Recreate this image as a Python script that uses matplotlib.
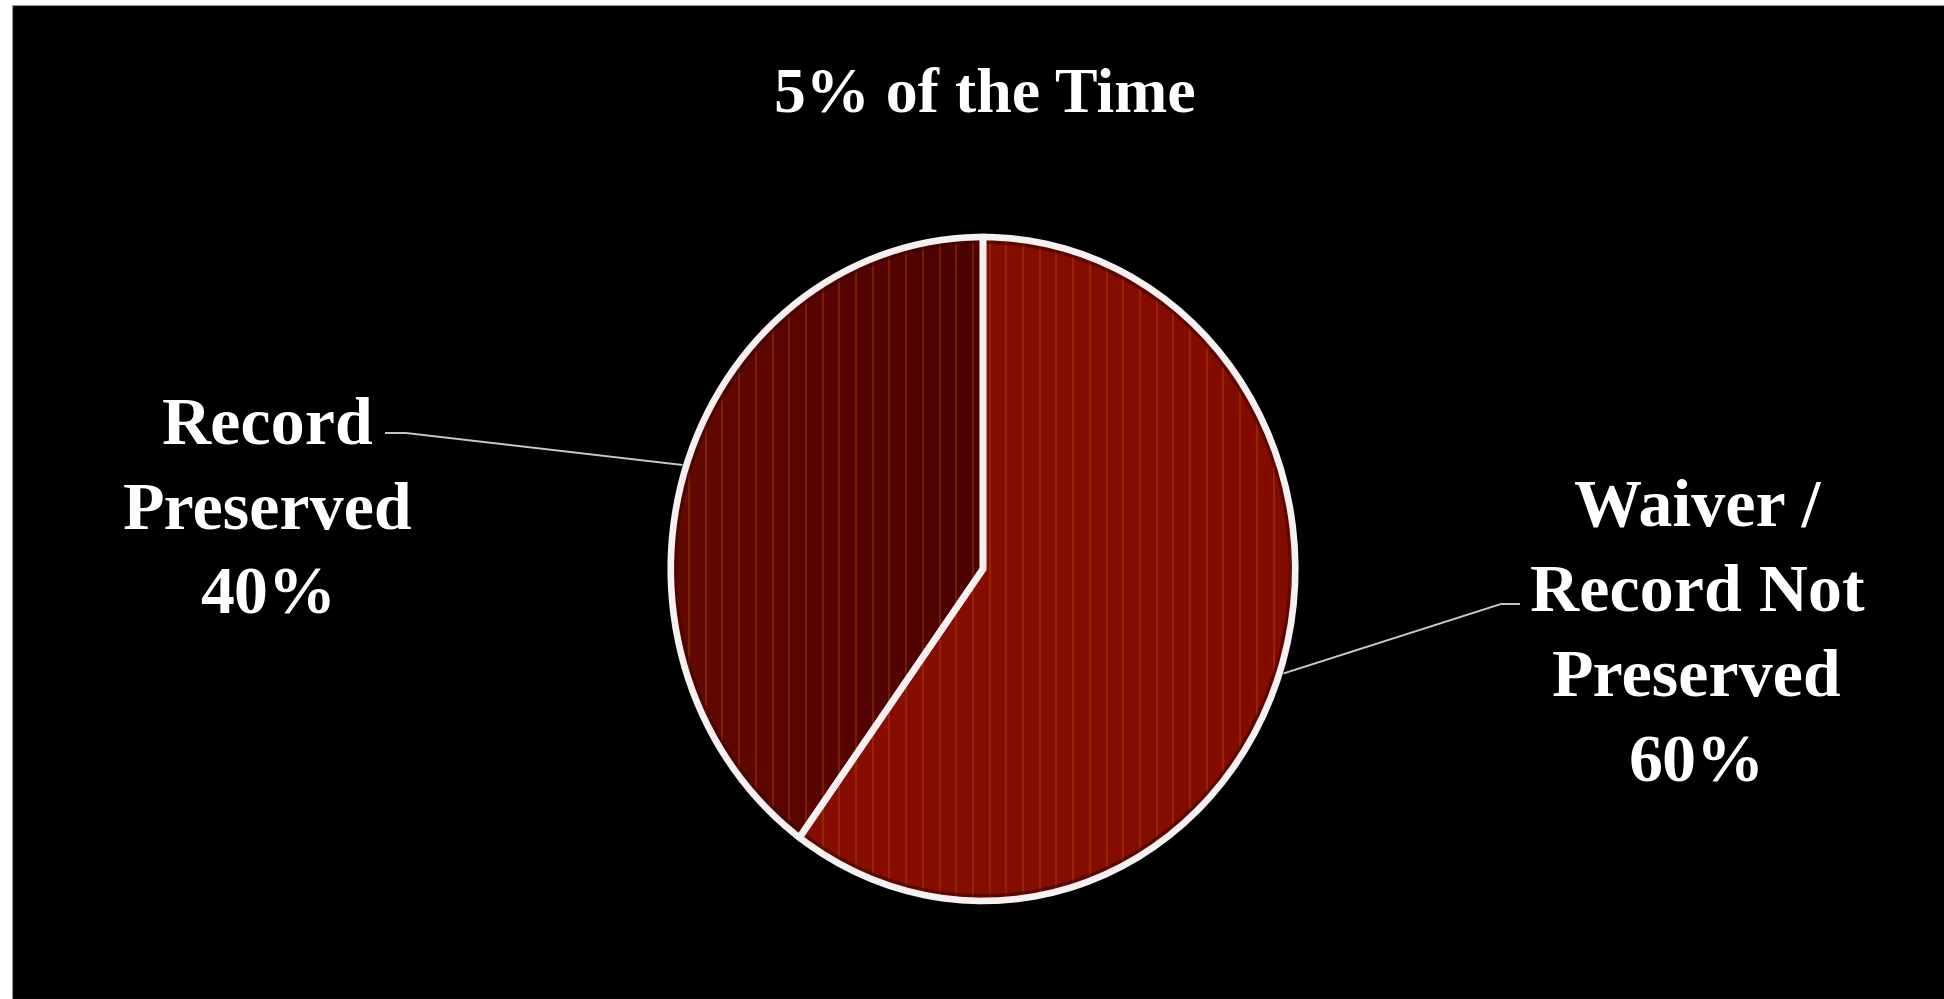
import numpy as np
import matplotlib
matplotlib.use('Agg')
from matplotlib import pyplot as plt
from matplotlib.patches import Rectangle, Wedge
from matplotlib.lines import Line2D
from matplotlib.colors import LinearSegmentedColormap

title = '5% of the Time'
labels = ['Waiver /\nRecord Not\nPreserved', 'Record\nPreserved']
shares = [60, 40]
colors = ['#840C00', '#5A0600']

W, H = 1944, 999
def fx(px):
    return px / W
def fy(py):
    return 1 - py / H

plt.rcParams['font.family'] = ['Liberation Serif', 'DejaVu Serif']

fig = plt.figure(figsize=(W / 100, H / 100), dpi=100, facecolor='white')
# black slide background with a small white margin top/left
fig.add_artist(Rectangle((fx(12), 0), 1, fy(5), transform=fig.transFigure,
                         facecolor='black', edgecolor='#9a9a9a', lw=0.8, zorder=-10))

# pie centre (983,569), radii 317 x 337 px -> slightly tall ellipse
cx, cy, rx, ry = 983, 569, 317, 337
ax = fig.add_axes([fx(cx - rx), fy(cy + ry), 2 * rx / W, 2 * ry / H])
ax.set_facecolor('none')
ax.set_zorder(1)

wedges, _ = ax.pie(shares, colors=colors, startangle=90, counterclock=False,
                   radius=0.985,
                   wedgeprops=dict(edgecolor='none', linewidth=0))
ax.set_aspect('auto')
ax.axis('off')

# gradient on the darker slice (darker toward the centre line)
grad = np.linspace(0, 1, 256).reshape(1, -1)
cm_left = LinearSegmentedColormap.from_list('l', ['#640900', '#580500', '#4A0300'])
im = ax.imshow(grad, extent=[-1, 0, -1, 1], cmap=cm_left, aspect='auto',
               zorder=1.5, interpolation='bilinear')
im.set_clip_path(wedges[1])
cm_right = LinearSegmentedColormap.from_list('r', ['#870E00', '#830C00'])
im2 = ax.imshow(grad, extent=[-0.6, 1, -1, 1], cmap=cm_right, aspect='auto',
                zorder=1.5, interpolation='bilinear')
im2.set_clip_path(wedges[0])
ax.set_xlim(-1, 1)
ax.set_ylim(-1, 1)

# faint vertical stripes
xs = np.arange(-1 + 0.02, 1, 16.7 / rx)
for w in wedges:
    lc = ax.vlines(xs, -1, 1, colors='#B84A10', linewidth=1.4, alpha=0.38, zorder=1.6)
    lc.set_clip_path(w)
    w.set_zorder(1)
# dark inner rim and white outlines on top
for w in wedges:
    ax.add_patch(Wedge(w.center, w.r - 0.014, w.theta1, w.theta2, facecolor='none',
                       edgecolor='#3A0200', linewidth=3, alpha=0.55, zorder=2.5))
    ax.add_patch(Wedge(w.center, w.r, w.theta1, w.theta2, facecolor='none',
                       edgecolor='#F7F0F0', linewidth=4.8, zorder=3))

# title
fig.text(fx(985), fy(97), title, ha='center', va='center', color='white',
         fontsize=46, fontweight='bold')

# data labels with leader lines from wedge mid-angles
txt_pos = [(1697, 637), (268, 512)]
line_start = [(1519, 604), (386, 433)]
elbow = [(1501, 604), (406, 433)]
for w, lab, s, tp, ls, el in zip(wedges, labels, shares, txt_pos, line_start, elbow):
    mid = np.deg2rad((w.theta1 + w.theta2) / 2)
    ex = cx + rx * np.cos(mid)
    ey = cy - ry * np.sin(mid)
    fig.add_artist(Line2D([fx(ls[0]), fx(el[0]), fx(ex)], [fy(ls[1]), fy(el[1]), fy(ey)],
                          transform=fig.transFigure, color='#C8C8C8', lw=1.4))
    fig.text(fx(tp[0]), fy(tp[1]), '{}\n{}%'.format(lab, s), ha='center', va='center',
             multialignment='center', color='white', fontsize=49, fontweight='bold',
             linespacing=1.52)

fig.savefig('out.png', dpi=100, facecolor=fig.get_facecolor())
